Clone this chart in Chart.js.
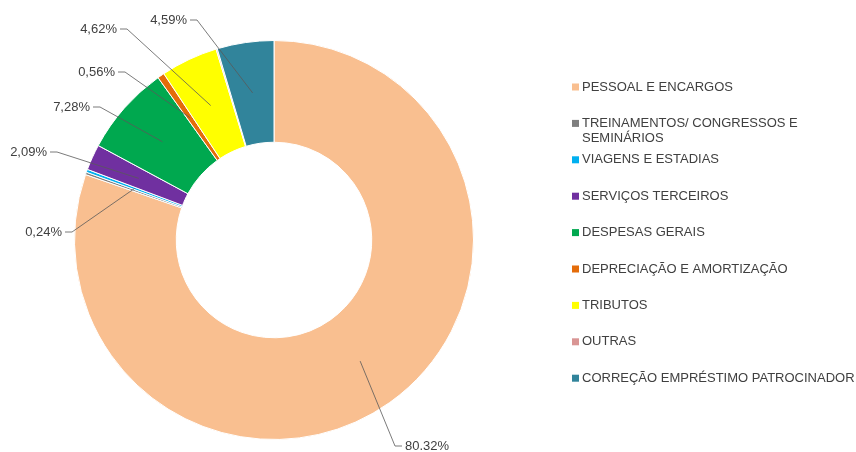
<!DOCTYPE html>
<html>
<head>
<meta charset="utf-8">
<script src="https://cdn.jsdelivr.net/npm/chart.js@4.4.1/dist/chart.umd.min.js"></script>
<style>
  html, body { margin: 0; padding: 0; background: #fff; }
  #wrap { width: 856px; height: 452px; position: relative; }
</style>
</head>
<body>
<div id="wrap"><canvas id="chart" width="856" height="452"></canvas></div>
<script>
// Data
const categories = [
    'PESSOAL E ENCARGOS',
    'TREINAMENTOS/ CONGRESSOS E SEMINÁRIOS',
    'VIAGENS E ESTADIAS',
    'SERVIÇOS TERCEIROS',
    'DESPESAS GERAIS',
    'DEPRECIAÇÃO E AMORTIZAÇÃO',
    'TRIBUTOS',
    'OUTRAS',
    'CORREÇÃO EMPRÉSTIMO PATROCINADOR'
];
const shares = [80.32, 0.2, 0.24, 2.09, 7.28, 0.56, 4.62, 0.1, 4.59];
const shareLabels = ['80.32%', '', '0,24%', '2,09%', '7,28%', '0,56%', '4,62%', '', '4,59%'];

// Styles
const colors = ['#F9BF90', '#7F7F7F', '#00B0F0', '#7030A0', '#00A84F', '#E46C0A', '#FFFF00', '#D99594', '#31849B'];
// elbow of each leader line, relative to the doughnut centre (null = no label)
const labelElbows = [[121, 206], null, [-202, -8], [-217, -88], [-174, -133], [-149, -168], [-147, -211], null, [-77, -220]];

const textColor = '#404040';
const font = '13px "Liberation Sans", Arial, sans-serif';

// Leader lines and percentage labels
const pieLabels = {
    id: 'pieLabels',
    afterDatasetsDraw(chart) {
        const ctx = chart.ctx;
        const arcs = chart.getDatasetMeta(0).data;
        ctx.save();
        ctx.font = font;
        ctx.textBaseline = 'middle';
        arcs.forEach((arc, i) => {
            if (!labelElbows[i] || !shareLabels[i]) return;
            const p = arc.getProps(['x', 'y', 'startAngle', 'endAngle', 'innerRadius', 'outerRadius'], true);
            const mid = (p.startAngle + p.endAngle) / 2;
            const r = (p.innerRadius + p.outerRadius) / 2;
            const sx = p.x + Math.cos(mid) * r;
            const sy = p.y + Math.sin(mid) * r;
            const ex = p.x + labelElbows[i][0];
            const ey = p.y + labelElbows[i][1];
            const dir = labelElbows[i][0] >= 0 ? 1 : -1;
            ctx.strokeStyle = '#595959';
            ctx.lineWidth = 0.8;
            ctx.beginPath();
            ctx.moveTo(sx, sy);
            ctx.lineTo(ex, ey);
            ctx.lineTo(ex + dir * 7, ey);
            ctx.stroke();
            ctx.fillStyle = textColor;
            ctx.textAlign = dir > 0 ? 'left' : 'right';
            ctx.fillText(shareLabels[i], ex + dir * 10, ey);
        });
        ctx.restore();
    }
};

// Legend drawn on the right with word wrap
const sideLegend = {
    id: 'sideLegend',
    afterDraw(chart) {
        const ctx = chart.ctx;
        const x0 = 572, y0 = 87, step = 36.4, maxW = 275, lineH = 15;
        ctx.save();
        ctx.font = font;
        ctx.textBaseline = 'middle';
        ctx.textAlign = 'left';
        categories.forEach((name, i) => {
            const y = y0 + i * step;
            ctx.fillStyle = colors[i];
            ctx.fillRect(x0, y - 3.5, 7, 7);
            ctx.fillStyle = textColor;
            const words = name.split(' ');
            let line = '', ly = y;
            words.forEach(w => {
                const test = line ? line + ' ' + w : w;
                if (ctx.measureText(test).width > maxW && line) {
                    ctx.fillText(line, x0 + 10, ly);
                    line = w;
                    ly += lineH;
                } else {
                    line = test;
                }
            });
            ctx.fillText(line, x0 + 10, ly);
        });
        ctx.restore();
    }
};

new Chart(document.getElementById('chart').getContext('2d'), {
    type: 'doughnut',
    data: {
        labels: categories,
        datasets: [{
            data: shares,
            backgroundColor: colors,
            borderColor: '#ffffff',
            borderWidth: 1
        }]
    },
    options: {
        responsive: false,
        animation: false,
        cutout: '49%',
        layout: { padding: { left: 74, right: 382, top: 40, bottom: 12 } },
        plugins: {
            legend: { display: false },
            tooltip: { enabled: false }
        }
    },
    plugins: [pieLabels, sideLegend]
});
</script>
</body>
</html>
